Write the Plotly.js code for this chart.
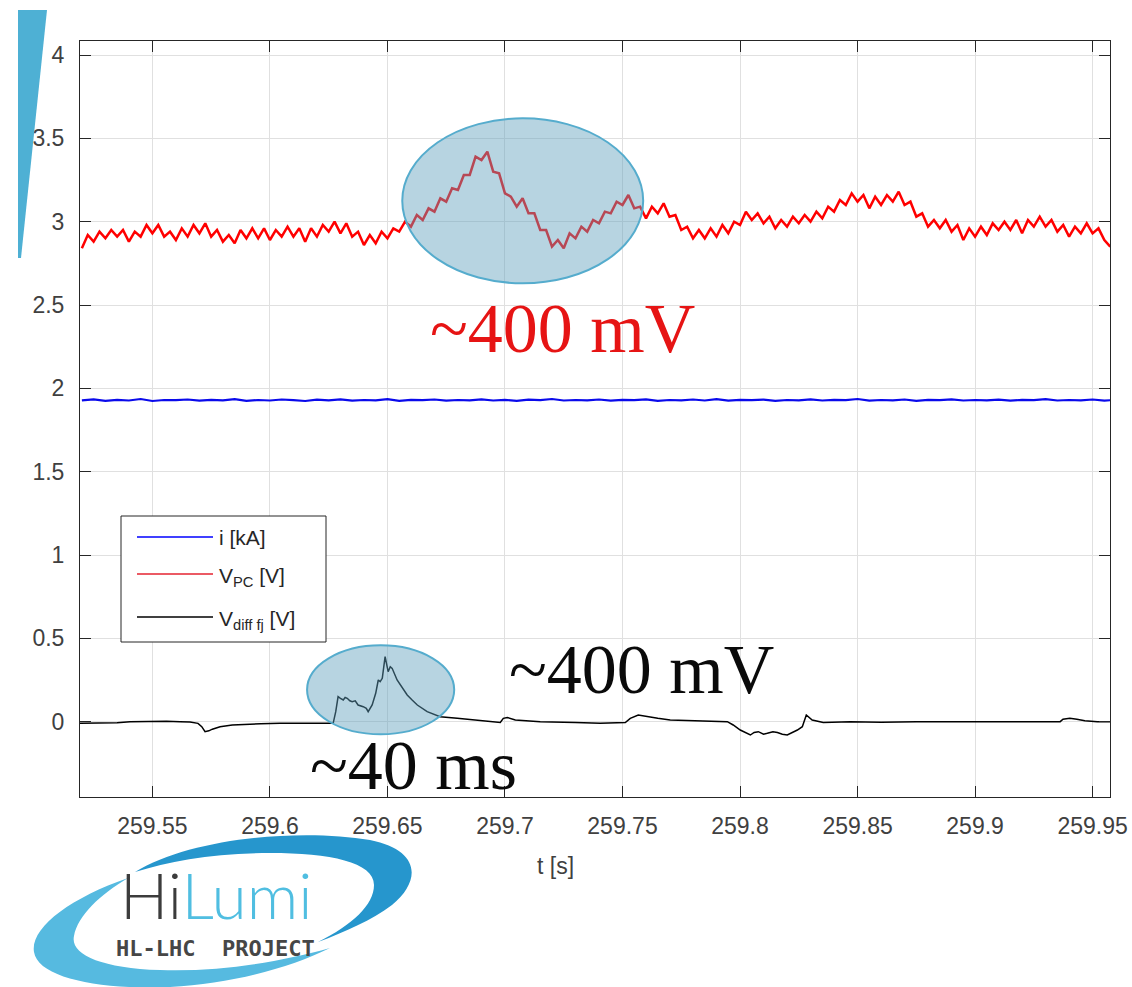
<!DOCTYPE html>
<html>
<head>
<meta charset="utf-8">
<script src="https://cdn.plot.ly/plotly-3.0.1.min.js"></script>
<style>
html,body{margin:0;padding:0;background:#fff;}
#chart{width:1132px;height:987px;}
</style>
</head>
<body>
<div id="chart"></div>
<script>
// ---------- data ----------
const seriesNames = ['i [kA]', 'V<sub>PC</sub> [V]', 'V<sub>diff fj</sub> [V]'];

// V_PC [V], sampled every 2.5 ms starting at t = 259.52 s
const redT0 = 259.52, redDt = 0.0025;
const vPC = [2.84,2.92,2.88,2.94,2.90,2.95,2.91,2.95,2.88,2.94,
 2.91,2.98,2.93,2.98,2.91,2.94,2.89,2.96,2.91,2.98,
 2.93,2.99,2.91,2.95,2.88,2.92,2.87,2.95,2.90,2.96,
 2.90,2.96,2.89,2.95,2.91,2.97,2.91,2.96,2.88,2.96,
 2.91,2.98,2.94,3.00,2.93,2.99,2.91,2.94,2.86,2.92,
 2.87,2.94,2.90,2.96,2.94,3.00,2.97,3.04,3.01,3.08,
 3.06,3.14,3.12,3.20,3.19,3.28,3.28,3.39,3.37,3.42,
 3.30,3.29,3.17,3.15,3.09,3.14,3.05,3.05,2.95,2.95,
 2.85,2.89,2.84,2.93,2.90,2.97,2.94,3.01,2.99,3.06,
 3.05,3.12,3.10,3.16,3.08,3.09,3.02,3.09,3.05,3.11,
 3.03,3.04,2.95,2.97,2.90,2.95,2.90,2.96,2.91,2.98,
 2.93,3.00,2.98,3.06,3.01,3.05,2.99,3.03,2.96,3.01,
 2.97,3.03,2.99,3.04,3.00,3.06,3.02,3.09,3.06,3.13,
 3.10,3.17,3.12,3.16,3.08,3.15,3.10,3.16,3.12,3.18,
 3.10,3.12,3.03,3.05,2.97,3.01,2.96,3.01,2.94,2.98,
 2.89,2.96,2.91,2.97,2.92,2.99,2.95,3.00,2.95,3.01,
 2.93,3.01,2.97,3.03,2.97,3.01,2.94,2.98,2.91,2.97,
 2.93,2.99,2.93,2.96,2.89,2.85];

// i [kA], sampled every 5 ms starting at t = 259.52 s
const blueT0 = 259.52, blueDt = 0.005;
const iKA = [1.928,1.934,1.925,1.931,1.927,1.936,1.924,1.930,1.929,1.933,
 1.926,1.931,1.928,1.935,1.925,1.930,1.927,1.933,1.929,1.924,
 1.932,1.928,1.934,1.926,1.930,1.928,1.935,1.925,1.931,1.929,
 1.933,1.926,1.930,1.928,1.934,1.927,1.931,1.925,1.932,1.929,
 1.936,1.927,1.930,1.928,1.933,1.926,1.931,1.929,1.934,1.925,
 1.930,1.928,1.933,1.927,1.935,1.926,1.931,1.929,1.932,1.925,
 1.930,1.928,1.934,1.927,1.931,1.929,1.936,1.926,1.930,1.928,
 1.933,1.925,1.931,1.929,1.934,1.927,1.930,1.928,1.932,1.926,
 1.931,1.929,1.935,1.927,1.930,1.928,1.933,1.926,1.931];

// V_diff fj [V]
const tDiff = [259.5192,259.5250,259.5300,259.5350,259.5405,259.5450,259.5500,259.5560,259.5618,259.5660,
 259.5694,259.5710,259.5724,259.5740,259.5755,259.5788,259.5840,259.5903,259.5960,259.6043,
 259.6100,259.6150,259.6214,259.6269,259.6280,259.6290,259.6300,259.6312,259.6320,259.6329,
 259.6340,259.6350,259.6363,259.6375,259.6397,259.6410,259.6418,259.6435,259.6450,259.6461,
 259.6469,259.6478,259.6490,259.6503,259.6512,259.6520,259.6541,259.6563,259.6584,259.6605,
 259.6627,259.6669,259.6724,259.6797,259.6882,259.6980,259.6993,259.7010,259.7044,259.7150,
 259.7300,259.7405,259.7512,259.7533,259.7567,259.7605,259.7650,259.7703,259.7800,259.7946,
 259.7971,259.8001,259.8044,259.8060,259.8078,259.8100,259.8116,259.8140,259.8159,259.8180,
 259.8201,259.8244,259.8265,259.8282,259.8307,259.8354,259.8469,259.8600,259.8750,259.8895,
 259.9050,259.9200,259.9362,259.9374,259.9403,259.9433,259.9467,259.9520,259.9576];
const vDiff = [-0.01,-0.008,-0.01,-0.006,0.0,0.002,0.004,0.003,0.0,-0.002,
 -0.01,-0.03,-0.06,-0.055,-0.045,-0.03,-0.02,-0.015,-0.012,-0.01,
 -0.008,-0.01,-0.01,-0.01,0.06,0.15,0.14,0.13,0.145,0.14,
 0.125,0.12,0.125,0.10,0.09,0.08,0.06,0.10,0.17,0.25,
 0.24,0.26,0.39,0.30,0.33,0.32,0.25,0.20,0.16,0.13,
 0.10,0.06,0.03,0.02,0.01,-0.005,0.02,0.025,0.01,0.0,
 -0.005,-0.01,-0.005,0.02,0.04,0.03,0.02,0.01,0.005,0.0,
 -0.02,-0.05,-0.08,-0.065,-0.06,-0.075,-0.07,-0.06,-0.065,-0.075,
 -0.08,-0.05,-0.03,0.04,0.01,-0.005,0.0,-0.003,0.0,0.0,
 -0.002,0.0,0.0,0.015,0.02,0.015,0.005,0.0,0.0];

const xTickVals = [259.55,259.6,259.65,259.7,259.75,259.8,259.85,259.9,259.95];
const xTickText = ['259.55','259.6','259.65','259.7','259.75','259.8','259.85','259.9','259.95'];
const yTickVals = [0,0.5,1,1.5,2,2.5,3,3.5,4];
const yTickText = ['0','0.5','1','1.5','2','2.5','3','3.5','4'];

const xTitle = 't [s]';
const noteTop = '~400 mV';
const noteBottom = '~400 mV';
const noteWidth = '~40 ms';

// ---------- geometry helpers (pixel -> paper) ----------
const W = 1132, H = 987;
const PL = 80, PR = 1110, PT = 41, PB = 797;
const px = x => (x - PL) / (PR - PL);
const py = y => (PB - y) / (PB - PT);
function path(cmds) {
  return cmds.map(c => {
    const L = c[0]; const nums = [];
    for (let k = 1; k < c.length; k += 2) nums.push(px(c[k]).toFixed(5) + ',' + py(c[k+1]).toFixed(5));
    return L + nums.join(' ');
  }).join(' ');
}

const tRed = vPC.map((_, i) => +(redT0 + i * redDt).toFixed(4));
const tBlue = iKA.map((_, i) => +(blueT0 + i * blueDt).toFixed(4));

const traces = [
  {x: tBlue, y: iKA, name: seriesNames[0], type: 'scatter', mode: 'lines',
   line: {color: 'rgb(10,10,235)', width: 2.2}, showlegend: false},
  {x: tRed, y: vPC, name: seriesNames[1], type: 'scatter', mode: 'lines',
   line: {color: 'rgb(255,0,0)', width: 2.5}, showlegend: false},
  {x: tDiff, y: vDiff, name: seriesNames[2], type: 'scatter', mode: 'lines',
   line: {color: 'rgb(0,0,0)', width: 1.5}, showlegend: false}
];

const sans = 'Liberation Sans, Arial, sans-serif';
const axisCommon = {
  showline: true, linecolor: 'rgb(38,38,38)', linewidth: 1, mirror: 'ticks',
  ticks: 'inside', ticklen: 11, tickwidth: 1, tickcolor: 'rgb(38,38,38)',
  showgrid: true, gridcolor: 'rgb(224,224,224)', gridwidth: 1, zeroline: false,
  tickfont: {family: sans, size: 23, color: 'rgb(64,64,64)'}
};

const ellFill = 'rgba(95,160,188,0.45)';
const ellLine = 'rgb(85,172,205)';

const shapes = [
  // highlight ellipses
  {type: 'circle', xref: 'x', yref: 'y', x0: 259.6563, x1: 259.7588, y0: 2.630, y1: 3.620,
   fillcolor: ellFill, line: {color: ellLine, width: 2}, layer: 'above'},
  {type: 'circle', xref: 'x', yref: 'y', x0: 259.6158, x1: 259.6784, y0: -0.0756, y1: 0.458,
   fillcolor: ellFill, line: {color: ellLine, width: 2}, layer: 'above'},
  // custom legend box
  {type: 'rect', xref: 'paper', yref: 'paper', x0: px(121), x1: px(326), y0: py(642), y1: py(516),
   fillcolor: 'white', line: {color: 'rgb(38,38,38)', width: 1}, layer: 'above'},
  {type: 'line', xref: 'paper', yref: 'paper', x0: px(137), x1: px(213), y0: py(537), y1: py(537),
   line: {color: 'rgb(0,0,255)', width: 1.5}, layer: 'above'},
  {type: 'line', xref: 'paper', yref: 'paper', x0: px(137), x1: px(213), y0: py(574), y1: py(574),
   line: {color: 'rgb(235,90,100)', width: 2}, layer: 'above'},
  {type: 'line', xref: 'paper', yref: 'paper', x0: px(137), x1: px(213), y0: py(617), y1: py(617),
   line: {color: 'rgb(0,0,0)', width: 1.5}, layer: 'above'},
  // slide decoration: top-left stripe
  {type: 'path', xref: 'paper', yref: 'paper', layer: 'above',
   path: path([['M',18,10],['L',47,10],['L',21,258],['L',18,258],['Z']]),
   fillcolor: 'rgb(78,176,212)', line: {width: 0}},
  // logo swooshes
  {type: 'path', xref: 'paper', yref: 'paper', layer: 'above',
   path: path([['M',128,878],['C',70,898,30,928,34,952],['C',38,978,100,990,170,987],
               ['C',230,984,290,968,330,948],['C',280,962,220,972,160,970],
               ['C',100,968,70,954,74,936],['C',78,915,100,895,128,878],['Z']]),
   fillcolor: 'rgb(86,186,224)', line: {width: 0}},
  {type: 'path', xref: 'paper', yref: 'paper', layer: 'above',
   path: path([['M',135,872],['C',190,838,300,828,370,840],['C',420,850,422,880,392,905],
               ['C',372,920,345,932,318,942],['C',352,925,374,905,374,885],
               ['C',374,862,330,853,270,853],['C',215,853,170,861,135,872],['Z']]),
   fillcolor: 'rgb(38,150,205)', line: {width: 0}}
];

const serif = 'Liberation Serif, Times New Roman, serif';
const annotations = [
  {xref: 'paper', yref: 'paper', x: px(562), y: py(328), text: noteTop, showarrow: false,
   xanchor: 'center', yanchor: 'middle', font: {family: serif, size: 70, color: 'rgb(230,20,20)'}},
  {xref: 'paper', yref: 'paper', x: px(641), y: py(669), text: noteBottom, showarrow: false,
   xanchor: 'center', yanchor: 'middle', font: {family: serif, size: 70, color: 'rgb(10,10,10)'}},
  {xref: 'paper', yref: 'paper', x: px(413), y: py(765), text: noteWidth, showarrow: false,
   xanchor: 'center', yanchor: 'middle', font: {family: serif, size: 70, color: 'rgb(10,10,10)'}},
  // x-axis title
  {xref: 'paper', yref: 'paper', x: px(555), y: py(866), text: xTitle, showarrow: false,
   xanchor: 'center', yanchor: 'middle', font: {family: sans, size: 23, color: 'rgb(64,64,64)'}},
  // legend labels
  {xref: 'paper', yref: 'paper', x: px(217), y: py(537), text: seriesNames[0], showarrow: false,
   xanchor: 'left', yanchor: 'middle', font: {family: sans, size: 21, color: 'rgb(38,38,38)'}},
  {xref: 'paper', yref: 'paper', x: px(217), y: py(577), text: seriesNames[1], showarrow: false,
   xanchor: 'left', yanchor: 'middle', font: {family: sans, size: 21, color: 'rgb(38,38,38)'}},
  {xref: 'paper', yref: 'paper', x: px(217), y: py(620), text: seriesNames[2], showarrow: false,
   xanchor: 'left', yanchor: 'middle', font: {family: sans, size: 21, color: 'rgb(38,38,38)'}},
  // logo text
  {xref: 'paper', yref: 'paper', x: px(216), y: py(894), showarrow: false, xanchor: 'center', yanchor: 'middle',
   text: '<span style="color:rgb(60,60,60)">Hi</span><span style="color:rgb(80,190,225)">Lumi</span>',
   font: {family: 'Lato, DejaVu Sans, sans-serif', size: 64, weight: 300}},
  {xref: 'paper', yref: 'paper', x: px(215), y: py(949), showarrow: false, xanchor: 'center', yanchor: 'middle',
   text: 'HL-LHC  PROJECT', font: {family: 'DejaVu Sans Mono, monospace', size: 22, color: 'rgb(70,70,70)', weight: 'bold'}}
];

const layout = {
  width: W, height: H,
  margin: {l: PL, r: W - PR, t: PT, b: H - PB, pad: 0},
  paper_bgcolor: 'white', plot_bgcolor: 'white',
  showlegend: false,
  xaxis: Object.assign({}, axisCommon, {
    range: [259.5192, 259.9574], tickmode: 'array', tickvals: xTickVals, ticktext: xTickText,
    ticklabelstandoff: 8
  }),
  yaxis: Object.assign({}, axisCommon, {
    range: [-0.452, 4.084], tickmode: 'array', tickvals: yTickVals, ticktext: yTickText,
    ticklabelstandoff: 10
  }),
  shapes: shapes,
  annotations: annotations
};

Plotly.newPlot('chart', traces, layout, {displayModeBar: false, staticPlot: true});
</script>
</body>
</html>
